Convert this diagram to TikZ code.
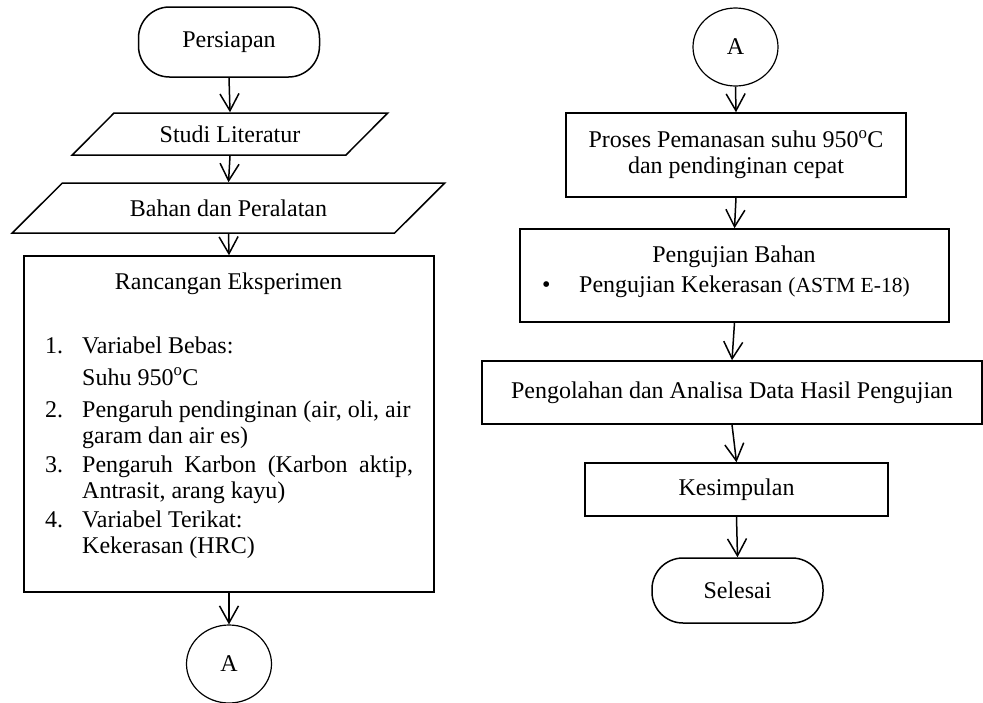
\documentclass[tikz,border=0pt]{standalone}
\usepackage{fontspec}
\setmainfont{Liberation Serif}
\usetikzlibrary{shapes.geometric,arrows.meta}

\begin{document}
\begin{tikzpicture}[x=1pt,y=-1pt,font={\fontsize{24}{26}\selectfont},
  >={Straight Barb[length=17pt,width=19pt]}]
\tikzset{term/.style = {rectangle, rounded corners=31pt, draw, line width=1.5pt, inner sep=0pt}}
\tikzset{proc/.style = {rectangle, draw, line width=1.5pt, inner sep=0pt}}
\tikzset{io/.style = {trapezium, trapezium stretches=true, draw, line width=1.5pt, inner sep=0pt}}
\tikzset{conn/.style = {ellipse, draw, line width=1.2pt, inner sep=0pt, minimum width=85pt, minimum height=78pt}}
\tikzset{flow/.style = {->, line width=1.5pt}}
\useasboundingbox (0,0) rectangle (983,702);

% kolom kiri
    \node[term, minimum width=181pt, minimum height=70pt] (persiapan) at (229,42) {Persiapan};
    \node[io, trapezium left angle=33.7, trapezium right angle=146.3,
          minimum width=316pt, minimum height=42pt] (studi) at (230,134) {Studi Literatur};
    \node[io, trapezium left angle=29.6, trapezium right angle=150.4,
          minimum width=433pt, minimum height=50pt] (bahan) at (228.5,208) {Bahan dan Peralatan};
    \node[proc, minimum width=410pt, minimum height=336pt] (rancangan) at (229,424) {};
    \node[anchor=base, inner sep=0pt] (judul) at (228.5,289) {Rancangan Eksperimen};
    \node[anchor=base west, inner sep=0pt] (daftar) at (45,353) {%
      \begin{tabular}[t]{@{}p{37pt}@{}l@{}}
      1. & Variabel Bebas:\\[6pt]
         & Suhu 950\textsuperscript{o}C\\[6pt]
      2. & Pengaruh pendinginan (air, oli, air\\
         & garam dan air es)\\[3pt]
      3. & \makebox[331pt][s]{Pengaruh Karbon (Karbon aktip,}\\
         & Antrasit, arang kayu)\\[3pt]
      4. & Variabel Terikat:\\
         & Kekerasan (HRC)
      \end{tabular}};
    \node[conn] (akiri) at (229,664) {A};

\draw[flow] (persiapan.south) -- (studi.north);
\draw[flow] (studi.south) -- (bahan.north);
\draw[flow] (bahan.south) -- (rancangan.north);
\draw[flow] (rancangan.south) -- (akiri.north);

% kolom kanan
    \node[conn] (akanan) at (735.5,47) {A};
    \node[proc, minimum width=340pt, minimum height=84pt, align=center] (proses) at (736,155)
      {Proses Pemanasan suhu 950\textsuperscript{o}C\\dan pendinginan cepat};
    \node[proc, minimum width=429pt, minimum height=93pt] (uji) at (734.5,275.5) {};
    \node[anchor=base, inner sep=0pt] (ujijudul) at (734,262) {Pengujian Bahan};
    \node[anchor=base west, inner sep=0pt] (ujibutir) at (542,292)
      {\makebox[37pt][l]{\textbullet}Pengujian Kekerasan {\fontsize{21.5}{26}\selectfont(ASTM E-18)}};
    \node[proc, minimum width=500pt, minimum height=63pt] (olah) at (732,392.5)
      {Pengolahan dan Analisa Data Hasil Pengujian};
    \node[proc, minimum width=303pt, minimum height=53pt] (simpul) at (736.5,489.5) {Kesimpulan};
    \node[term, minimum width=171pt, minimum height=65pt] (selesai) at (737.5,590.5) {Selesai};

\draw[flow] (akanan.south) -- (proses.north);
\draw[flow] (proses.south) -- (uji.north);
\draw[flow] (uji.south) -- (olah.north);
\draw[flow] (olah.south) -- (simpul.north);
\draw[flow] (simpul.south) -- (selesai.north);
\end{tikzpicture}
\end{document}
